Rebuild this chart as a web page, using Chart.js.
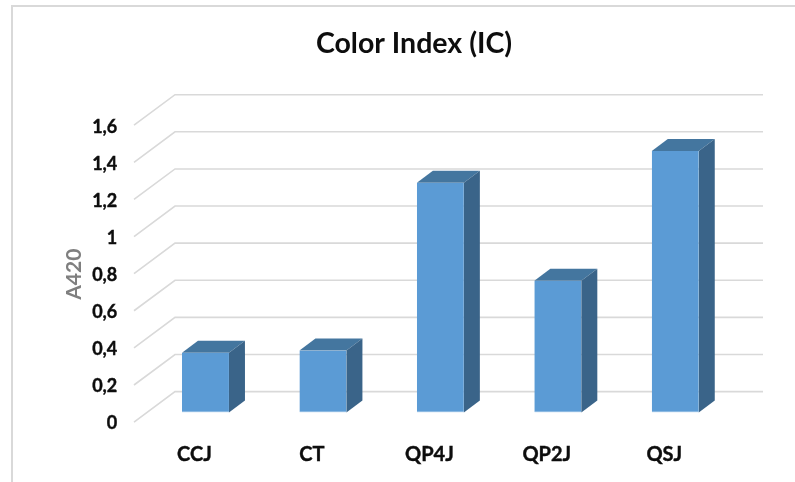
<!DOCTYPE html>
<html>
<head>
<meta charset="utf-8">
<style>
html,body{margin:0;padding:0;background:#fff;overflow:hidden}
#wrap{position:relative;width:795px;height:482px}
canvas{display:block}
</style>
<script src="https://cdn.jsdelivr.net/npm/chart.js@4"></script>
</head>
<body>
<div id="wrap"><canvas id="c" width="795" height="482"></canvas></div>
<script>
const categories = ['CCJ','CT','QP4J','QP2J','QSJ'];
const seriesValues = [0.323,0.335,1.238,0.71,1.41];
const tickValues = [0,0.2,0.4,0.6,0.8,1,1.2,1.4,1.6];
const tickLabels = ['0','0,2','0,4','0,6','0,8','1','1,2','1,4','1,6'];
const seriesName = 'A420';
const chartTitle = 'Color Index (IC)';

const FONT = 'Lato, Carlito, sans-serif';
const GRID = '#D9D9D9';
const FRONT = '#5B9BD5', TOP = '#44769F', SIDE = '#3A6489';
const DEPTH_X = 16, DEPTH_Y = 12;

function shiftDraw(scale, method, dx, dy){
  const orig = scale[method];
  if (scale['_s'+method]) return;
  scale['_s'+method] = true;
  scale[method] = function(a){
    const c = this.ctx; c.save(); c.translate(dx,dy); orig.call(this,a); c.restore();
  };
}

const box3d = {
  id:'box3d',
  beforeDraw(chart){
    const c = chart.ctx;
    c.save();
    c.strokeStyle = GRID; c.lineWidth = 2;
    c.beginPath();
    c.moveTo(12,482); c.lineTo(12,6); c.lineTo(795,6);
    c.stroke();
    c.restore();
  },
  beforeDatasetsDraw(chart){
    const c = chart.ctx, y = chart.scales.y;
    c.save();
    c.strokeStyle = GRID; c.lineWidth = 1.6;
    tickValues.forEach(v=>{
      const p = y.getPixelForValue(v);
      c.beginPath();
      c.moveTo(134,p+9.5); c.lineTo(175,p-21); c.lineTo(763,p-21);
      c.stroke();
    });
    chart.getDatasetMeta(0).data.forEach(b=>{
      const l=b.x-b.width/2, r=b.x+b.width/2, t=b.y, base=b.base;
      c.fillStyle = TOP;
      c.beginPath();
      c.moveTo(l,t); c.lineTo(l+DEPTH_X,t-DEPTH_Y); c.lineTo(r+DEPTH_X,t-DEPTH_Y); c.lineTo(r,t);
      c.closePath(); c.fill();
      c.fillStyle = SIDE;
      c.beginPath();
      c.moveTo(r,t); c.lineTo(r+DEPTH_X,t-DEPTH_Y); c.lineTo(r+DEPTH_X,base-DEPTH_Y); c.lineTo(r,base);
      c.closePath(); c.fill();
    });
    c.restore();
  }
};

new Chart(document.getElementById('c'),{
  type:'bar',
  data:{labels:categories,datasets:[{label:seriesName,data:seriesValues,backgroundColor:FRONT,borderColor:'#7FB2E0',borderWidth:{bottom:1,left:0,right:0,top:0},borderSkipped:false,barPercentage:0.8,categoryPercentage:0.5}]},
  options:{
    responsive:false,animation:false,
    layout:{padding:{left:94,right:61,top:0,bottom:0}},
    plugins:{
      legend:{display:false},tooltip:{enabled:false},
      title:{display:true,text:chartTitle,color:'#0d0d0d',font:{family:FONT,size:28.5,weight:'bold',lineHeight:1},padding:{top:29.5,bottom:57.7}}
    },
    scales:{
      x:{
        grid:{display:false,drawTicks:false},border:{display:false},
        ticks:{color:'#0d0d0d',font:{family:FONT,size:20,weight:'bold'},padding:30,maxRotation:0,autoSkip:false,textStrokeColor:'#0d0d0d',textStrokeWidth:0.4},
        afterFit(s){s.height=69.4; shiftDraw(s,'drawLabels',-11,0);}
      },
      y:{
        min:0,max:1.6,
        grid:{display:false,drawTicks:false},border:{display:false},
        afterBuildTicks(s){s.ticks=tickValues.map(v=>({value:v}));},
        ticks:{color:'#0d0d0d',font:{family:FONT,size:18,weight:'bold'},padding:29.5,autoSkip:false,textStrokeColor:'#0d0d0d',textStrokeWidth:0.4,callback:(v)=>tickLabels[tickValues.indexOf(v)]},
        title:{display:true,text:seriesName,color:'#7f7f7f',font:{family:FONT,size:21,weight:'bold'},padding:0},
        afterFit(s){s.width=52.75; s._computeLabelArea=()=>undefined; shiftDraw(s,'drawLabels',0,11); shiftDraw(s,'drawTitle',-32,10);}
      }
    }
  },
  plugins:[box3d]
});
</script>
</body>
</html>
